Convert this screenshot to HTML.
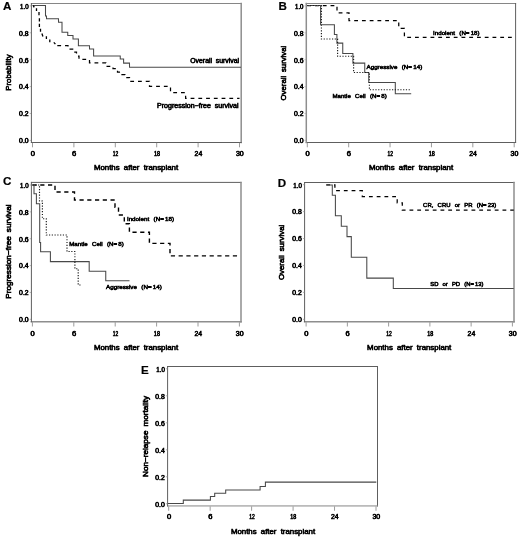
<!DOCTYPE html>
<html><head><meta charset="utf-8"><title>Figure</title>
<style>
html,body{margin:0;padding:0;background:#fff;}
svg{display:block;font-family:"Liberation Sans",sans-serif;will-change:transform;}
</style></head>
<body>
<svg width="520" height="539" viewBox="0 0 520 539">
<line x1="31.4" y1="3.5" x2="241.2" y2="3.5" stroke="#868686" stroke-width="1.0" stroke-linecap="square"/>
<line x1="241.2" y1="3.5" x2="241.2" y2="142.5" stroke="#8e8e8e" stroke-width="1.5" stroke-linecap="square"/>
<line x1="31.4" y1="142.5" x2="241.2" y2="142.5" stroke="#5e5e5e" stroke-width="1.0" stroke-linecap="square"/>
<line x1="31.4" y1="3.5" x2="31.4" y2="142.5" stroke="#5e5e5e" stroke-width="1.0" stroke-linecap="square"/>
<line x1="32.50" y1="142.9" x2="32.50" y2="147.3" stroke="#9c9c9c" stroke-width="1"/>
<text x="32.8" y="156.4" font-size="6.6" font-weight="normal" text-anchor="middle" textLength="4.2" lengthAdjust="spacingAndGlyphs" fill="#000" stroke="#000" stroke-width="0.6">0</text>
<line x1="73.90" y1="142.9" x2="73.90" y2="147.3" stroke="#9c9c9c" stroke-width="1"/>
<text x="74.2" y="156.4" font-size="6.6" font-weight="normal" text-anchor="middle" textLength="4.2" lengthAdjust="spacingAndGlyphs" fill="#000" stroke="#000" stroke-width="0.6">6</text>
<line x1="115.30" y1="142.9" x2="115.30" y2="147.3" stroke="#9c9c9c" stroke-width="1"/>
<text x="115.6" y="156.4" font-size="6.6" font-weight="normal" text-anchor="middle" textLength="5.5" lengthAdjust="spacingAndGlyphs" fill="#000" stroke="#000" stroke-width="0.6">12</text>
<line x1="156.70" y1="142.9" x2="156.70" y2="147.3" stroke="#9c9c9c" stroke-width="1"/>
<text x="157.0" y="156.4" font-size="6.6" font-weight="normal" text-anchor="middle" textLength="6.1" lengthAdjust="spacingAndGlyphs" fill="#000" stroke="#000" stroke-width="0.6">18</text>
<line x1="198.10" y1="142.9" x2="198.10" y2="147.3" stroke="#9c9c9c" stroke-width="1"/>
<text x="198.4" y="156.4" font-size="6.6" font-weight="normal" text-anchor="middle" textLength="7.6" lengthAdjust="spacingAndGlyphs" fill="#000" stroke="#000" stroke-width="0.6">24</text>
<line x1="239.50" y1="142.9" x2="239.50" y2="147.3" stroke="#9c9c9c" stroke-width="1"/>
<text x="239.8" y="156.4" font-size="6.6" font-weight="normal" text-anchor="middle" textLength="7.8" lengthAdjust="spacingAndGlyphs" fill="#000" stroke="#000" stroke-width="0.6">30</text>
<line x1="29.7" y1="140.40" x2="31.0" y2="140.40" stroke="#b0b0b0" stroke-width="1"/>
<text x="28.6" y="143.2" font-size="6.6" font-weight="normal" text-anchor="end" textLength="9.5" lengthAdjust="spacingAndGlyphs" fill="#000" stroke="#000" stroke-width="0.6">0.0</text>
<line x1="29.7" y1="113.50" x2="31.0" y2="113.50" stroke="#b0b0b0" stroke-width="1"/>
<text x="28.6" y="116.3" font-size="6.6" font-weight="normal" text-anchor="end" textLength="9.5" lengthAdjust="spacingAndGlyphs" fill="#000" stroke="#000" stroke-width="0.6">0.2</text>
<line x1="29.7" y1="86.60" x2="31.0" y2="86.60" stroke="#b0b0b0" stroke-width="1"/>
<text x="28.6" y="89.4" font-size="6.6" font-weight="normal" text-anchor="end" textLength="9.5" lengthAdjust="spacingAndGlyphs" fill="#000" stroke="#000" stroke-width="0.6">0.4</text>
<line x1="29.7" y1="59.70" x2="31.0" y2="59.70" stroke="#b0b0b0" stroke-width="1"/>
<text x="28.6" y="62.5" font-size="6.6" font-weight="normal" text-anchor="end" textLength="9.5" lengthAdjust="spacingAndGlyphs" fill="#000" stroke="#000" stroke-width="0.6">0.6</text>
<line x1="29.7" y1="32.80" x2="31.0" y2="32.80" stroke="#b0b0b0" stroke-width="1"/>
<text x="28.6" y="35.6" font-size="6.6" font-weight="normal" text-anchor="end" textLength="9.5" lengthAdjust="spacingAndGlyphs" fill="#000" stroke="#000" stroke-width="0.6">0.8</text>
<line x1="29.7" y1="5.90" x2="31.0" y2="5.90" stroke="#b0b0b0" stroke-width="1"/>
<text x="28.6" y="8.7" font-size="6.6" font-weight="normal" text-anchor="end" textLength="8.5" lengthAdjust="spacingAndGlyphs" fill="#000" stroke="#000" stroke-width="0.6">1.0</text>
<text x="136" y="170.35" font-size="7.5" font-weight="normal" text-anchor="middle" textLength="84.2" lengthAdjust="spacingAndGlyphs" word-spacing="1.9" fill="#000" stroke="#000" stroke-width="0.6">Months after transplant</text>
<text x="10.7" y="72.55" font-size="7.45" font-weight="normal" text-anchor="middle" textLength="36.3" lengthAdjust="spacingAndGlyphs" transform="rotate(-90 10.7 72.55)" word-spacing="1.6" fill="#000" stroke="#000" stroke-width="0.6">Probability</text>
<text x="2.9" y="9.75" font-size="11.6" font-weight="bold" fill="#000" stroke="#000" stroke-width="0.2">A</text>
<path d="M32.5,5.5 H45.5 V16 H46.5 V18.75 H58.5 V22.25 H62 V32.25 H67.75 V35.5 H73 V39 H78.4 V45.8 H89.5 V49 H93.6 V56 H120.25 V59 H123.6 V63.1 H129.5 V67.25 H241" fill="none" stroke="#484848" stroke-width="1.05"/>
<path d="M33.2,5.4 L34.2,7.4 M36.5,8.3 L36.5,11.1 M39,12 L39,15.2 M39.4,18.3 L39.4,21.5 M39.4,23.8 L39.4,27 M40.5,28.7 L40.5,31.7 M41.9,33.5 L42.9,36.5 M46.4,36.2 L46.4,39 M49.8,39.5 L49.8,42.3 M53.8,42.3 L55.4,44.2" fill="none" stroke="#000" stroke-width="1.3"/>
<path d="M57.3,45.7 H68 V49 H73.5 V52 H76.5 V56 H79 V59.4 H89.5 V62.75 H106 V66.25 H113 V68.5 H117.5 V72 H122 V74.5 H125 V77.5 H129.5 V81.25 H149.5 V86.4 H170.5 V92.5 H185.6 V98.4 H239.5" fill="none" stroke="#000" stroke-width="1.25" stroke-dasharray="3.8 3.95"/>
<text x="239" y="63.3" font-size="6.9" font-weight="normal" text-anchor="end" textLength="48.75" lengthAdjust="spacingAndGlyphs" word-spacing="1.8" fill="#000" stroke="#000" stroke-width="0.6">Overall survival</text>
<text x="238.6" y="107.5" font-size="6.9" font-weight="normal" text-anchor="end" textLength="81.6" lengthAdjust="spacingAndGlyphs" word-spacing="1.8" fill="#000" stroke="#000" stroke-width="0.6">Progression&#8722;free survival</text>
<line x1="306.3" y1="3.5" x2="515.6" y2="3.5" stroke="#868686" stroke-width="1.0" stroke-linecap="square"/>
<line x1="515.6" y1="3.5" x2="515.6" y2="142.5" stroke="#5e5e5e" stroke-width="1.0" stroke-linecap="square"/>
<line x1="306.3" y1="142.5" x2="515.6" y2="142.5" stroke="#5e5e5e" stroke-width="1.0" stroke-linecap="square"/>
<line x1="306.3" y1="3.5" x2="306.3" y2="142.5" stroke="#8e8e8e" stroke-width="1.5" stroke-linecap="square"/>
<line x1="307.30" y1="142.9" x2="307.30" y2="147.3" stroke="#9c9c9c" stroke-width="1"/>
<text x="307.6" y="156.4" font-size="6.6" font-weight="normal" text-anchor="middle" textLength="4.2" lengthAdjust="spacingAndGlyphs" fill="#000" stroke="#000" stroke-width="0.6">0</text>
<line x1="348.68" y1="142.9" x2="348.68" y2="147.3" stroke="#9c9c9c" stroke-width="1"/>
<text x="348.98" y="156.4" font-size="6.6" font-weight="normal" text-anchor="middle" textLength="4.2" lengthAdjust="spacingAndGlyphs" fill="#000" stroke="#000" stroke-width="0.6">6</text>
<line x1="390.06" y1="142.9" x2="390.06" y2="147.3" stroke="#9c9c9c" stroke-width="1"/>
<text x="390.36" y="156.4" font-size="6.6" font-weight="normal" text-anchor="middle" textLength="5.5" lengthAdjust="spacingAndGlyphs" fill="#000" stroke="#000" stroke-width="0.6">12</text>
<line x1="431.44" y1="142.9" x2="431.44" y2="147.3" stroke="#9c9c9c" stroke-width="1"/>
<text x="431.74" y="156.4" font-size="6.6" font-weight="normal" text-anchor="middle" textLength="6.1" lengthAdjust="spacingAndGlyphs" fill="#000" stroke="#000" stroke-width="0.6">18</text>
<line x1="472.82" y1="142.9" x2="472.82" y2="147.3" stroke="#9c9c9c" stroke-width="1"/>
<text x="473.12" y="156.4" font-size="6.6" font-weight="normal" text-anchor="middle" textLength="7.6" lengthAdjust="spacingAndGlyphs" fill="#000" stroke="#000" stroke-width="0.6">24</text>
<line x1="514.20" y1="142.9" x2="514.20" y2="147.3" stroke="#9c9c9c" stroke-width="1"/>
<text x="514.5" y="156.4" font-size="6.6" font-weight="normal" text-anchor="middle" textLength="7.8" lengthAdjust="spacingAndGlyphs" fill="#000" stroke="#000" stroke-width="0.6">30</text>
<line x1="304.6" y1="140.40" x2="305.90000000000003" y2="140.40" stroke="#b0b0b0" stroke-width="1"/>
<text x="303.5" y="143.2" font-size="6.6" font-weight="normal" text-anchor="end" textLength="9.5" lengthAdjust="spacingAndGlyphs" fill="#000" stroke="#000" stroke-width="0.6">0.0</text>
<line x1="304.6" y1="113.50" x2="305.90000000000003" y2="113.50" stroke="#b0b0b0" stroke-width="1"/>
<text x="303.5" y="116.3" font-size="6.6" font-weight="normal" text-anchor="end" textLength="9.5" lengthAdjust="spacingAndGlyphs" fill="#000" stroke="#000" stroke-width="0.6">0.2</text>
<line x1="304.6" y1="86.60" x2="305.90000000000003" y2="86.60" stroke="#b0b0b0" stroke-width="1"/>
<text x="303.5" y="89.4" font-size="6.6" font-weight="normal" text-anchor="end" textLength="9.5" lengthAdjust="spacingAndGlyphs" fill="#000" stroke="#000" stroke-width="0.6">0.4</text>
<line x1="304.6" y1="59.70" x2="305.90000000000003" y2="59.70" stroke="#b0b0b0" stroke-width="1"/>
<text x="303.5" y="62.5" font-size="6.6" font-weight="normal" text-anchor="end" textLength="9.5" lengthAdjust="spacingAndGlyphs" fill="#000" stroke="#000" stroke-width="0.6">0.6</text>
<line x1="304.6" y1="32.80" x2="305.90000000000003" y2="32.80" stroke="#b0b0b0" stroke-width="1"/>
<text x="303.5" y="35.6" font-size="6.6" font-weight="normal" text-anchor="end" textLength="9.5" lengthAdjust="spacingAndGlyphs" fill="#000" stroke="#000" stroke-width="0.6">0.8</text>
<line x1="304.6" y1="5.90" x2="305.90000000000003" y2="5.90" stroke="#b0b0b0" stroke-width="1"/>
<text x="303.5" y="8.7" font-size="6.6" font-weight="normal" text-anchor="end" textLength="8.5" lengthAdjust="spacingAndGlyphs" fill="#000" stroke="#000" stroke-width="0.6">1.0</text>
<text x="411" y="170.35" font-size="7.5" font-weight="normal" text-anchor="middle" textLength="84.2" lengthAdjust="spacingAndGlyphs" word-spacing="1.9" fill="#000" stroke="#000" stroke-width="0.6">Months after transplant</text>
<text x="285.8" y="73.1" font-size="7.45" font-weight="normal" text-anchor="middle" textLength="54.6" lengthAdjust="spacingAndGlyphs" transform="rotate(-90 285.8 73.1)" word-spacing="1.6" fill="#000" stroke="#000" stroke-width="0.6">Overall survival</text>
<text x="278.6" y="9.7" font-size="11.6" font-weight="bold" fill="#000" stroke="#000" stroke-width="0.2">B</text>
<path d="M307.3,5.5 H337 V12.9 H349 V20.6 H398.75 V28.4 H404.4 V37.3 H515.75" fill="none" stroke="#000" stroke-width="1.25" stroke-dasharray="3.8 3.95"/>
<path d="M307.3,5.5 H320.6 V24.75 H334.4 V34.4 H336.9 V43.1 H342.75 V53.5 H352.9 V63.1 H364.75 V72.5 H368.75 V82.5 H395.3 V93.8 H411.2" fill="none" stroke="#484848" stroke-width="1.05"/>
<path d="M307.3,5.5 H321.4 V39 H337.6 V56.25 H353.6 V72.5 H369.4 V89.75 H410.8" fill="none" stroke="#1a1a1a" stroke-width="1.15" stroke-dasharray="1.2 1.57"/>
<text x="433.1" y="34.7" font-size="6.1" font-weight="normal" textLength="46.5" lengthAdjust="spacingAndGlyphs" word-spacing="2.6" fill="#000" stroke="#000" stroke-width="0.55">Indolent (N=&#8201;18)</text>
<text x="366.5" y="69.35" font-size="6.1" font-weight="normal" textLength="55.75" lengthAdjust="spacingAndGlyphs" word-spacing="2.6" fill="#000" stroke="#000" stroke-width="0.55">Aggressive (N=&#8201;14)</text>
<text x="332.4" y="98.45" font-size="6.1" font-weight="normal" textLength="54.35" lengthAdjust="spacingAndGlyphs" word-spacing="2.6" fill="#000" stroke="#000" stroke-width="0.55">Mantle Cell (N=&#8201;8)</text>
<line x1="31.4" y1="182.4" x2="241.0" y2="182.4" stroke="#5e5e5e" stroke-width="1.0" stroke-linecap="square"/>
<line x1="241.0" y1="182.4" x2="241.0" y2="321.7" stroke="#8e8e8e" stroke-width="1.5" stroke-linecap="square"/>
<line x1="31.4" y1="321.7" x2="241.0" y2="321.7" stroke="#8e8e8e" stroke-width="1.5" stroke-linecap="square"/>
<line x1="31.4" y1="182.4" x2="31.4" y2="321.7" stroke="#5e5e5e" stroke-width="1.0" stroke-linecap="square"/>
<line x1="32.40" y1="322.09999999999997" x2="32.40" y2="326.5" stroke="#9c9c9c" stroke-width="1"/>
<text x="32.7" y="335.6" font-size="6.6" font-weight="normal" text-anchor="middle" textLength="4.2" lengthAdjust="spacingAndGlyphs" fill="#000" stroke="#000" stroke-width="0.6">0</text>
<line x1="73.80" y1="322.09999999999997" x2="73.80" y2="326.5" stroke="#9c9c9c" stroke-width="1"/>
<text x="74.1" y="335.6" font-size="6.6" font-weight="normal" text-anchor="middle" textLength="4.2" lengthAdjust="spacingAndGlyphs" fill="#000" stroke="#000" stroke-width="0.6">6</text>
<line x1="115.20" y1="322.09999999999997" x2="115.20" y2="326.5" stroke="#9c9c9c" stroke-width="1"/>
<text x="115.5" y="335.6" font-size="6.6" font-weight="normal" text-anchor="middle" textLength="5.5" lengthAdjust="spacingAndGlyphs" fill="#000" stroke="#000" stroke-width="0.6">12</text>
<line x1="156.60" y1="322.09999999999997" x2="156.60" y2="326.5" stroke="#9c9c9c" stroke-width="1"/>
<text x="156.9" y="335.6" font-size="6.6" font-weight="normal" text-anchor="middle" textLength="6.1" lengthAdjust="spacingAndGlyphs" fill="#000" stroke="#000" stroke-width="0.6">18</text>
<line x1="198.00" y1="322.09999999999997" x2="198.00" y2="326.5" stroke="#9c9c9c" stroke-width="1"/>
<text x="198.3" y="335.6" font-size="6.6" font-weight="normal" text-anchor="middle" textLength="7.6" lengthAdjust="spacingAndGlyphs" fill="#000" stroke="#000" stroke-width="0.6">24</text>
<line x1="239.40" y1="322.09999999999997" x2="239.40" y2="326.5" stroke="#9c9c9c" stroke-width="1"/>
<text x="239.7" y="335.6" font-size="6.6" font-weight="normal" text-anchor="middle" textLength="7.8" lengthAdjust="spacingAndGlyphs" fill="#000" stroke="#000" stroke-width="0.6">30</text>
<line x1="29.7" y1="319.30" x2="31.0" y2="319.30" stroke="#b0b0b0" stroke-width="1"/>
<text x="28.6" y="322.1" font-size="6.6" font-weight="normal" text-anchor="end" textLength="9.5" lengthAdjust="spacingAndGlyphs" fill="#000" stroke="#000" stroke-width="0.6">0.0</text>
<line x1="29.7" y1="292.44" x2="31.0" y2="292.44" stroke="#b0b0b0" stroke-width="1"/>
<text x="28.6" y="295.24" font-size="6.6" font-weight="normal" text-anchor="end" textLength="9.5" lengthAdjust="spacingAndGlyphs" fill="#000" stroke="#000" stroke-width="0.6">0.2</text>
<line x1="29.7" y1="265.58" x2="31.0" y2="265.58" stroke="#b0b0b0" stroke-width="1"/>
<text x="28.6" y="268.38" font-size="6.6" font-weight="normal" text-anchor="end" textLength="9.5" lengthAdjust="spacingAndGlyphs" fill="#000" stroke="#000" stroke-width="0.6">0.4</text>
<line x1="29.7" y1="238.72" x2="31.0" y2="238.72" stroke="#b0b0b0" stroke-width="1"/>
<text x="28.6" y="241.52" font-size="6.6" font-weight="normal" text-anchor="end" textLength="9.5" lengthAdjust="spacingAndGlyphs" fill="#000" stroke="#000" stroke-width="0.6">0.6</text>
<line x1="29.7" y1="211.86" x2="31.0" y2="211.86" stroke="#b0b0b0" stroke-width="1"/>
<text x="28.6" y="214.66" font-size="6.6" font-weight="normal" text-anchor="end" textLength="9.5" lengthAdjust="spacingAndGlyphs" fill="#000" stroke="#000" stroke-width="0.6">0.8</text>
<line x1="29.7" y1="185.00" x2="31.0" y2="185.00" stroke="#b0b0b0" stroke-width="1"/>
<text x="28.6" y="187.8" font-size="6.6" font-weight="normal" text-anchor="end" textLength="8.5" lengthAdjust="spacingAndGlyphs" fill="#000" stroke="#000" stroke-width="0.6">1.0</text>
<text x="136" y="349.55" font-size="7.5" font-weight="normal" text-anchor="middle" textLength="84.2" lengthAdjust="spacingAndGlyphs" word-spacing="1.9" fill="#000" stroke="#000" stroke-width="0.6">Months after transplant</text>
<text x="10.9" y="251.6" font-size="7.45" font-weight="normal" text-anchor="middle" textLength="94.4" lengthAdjust="spacingAndGlyphs" transform="rotate(-90 10.9 251.6)" word-spacing="1.6" fill="#000" stroke="#000" stroke-width="0.6">Progression&#8722;free survival</text>
<text x="2.9" y="185.4" font-size="11.6" font-weight="bold" fill="#000" stroke="#000" stroke-width="0.2">C</text>
<path d="M32.5,185 H55 V192 H74.5 V200 H115 V207.2 H118.5 V215 H124.3 V223.7 H129.4 V232.3 H149.4 V243.4 H170 V255.9 H238.75" fill="none" stroke="#000" stroke-width="1.4" stroke-dasharray="4.2 3.55"/>
<path d="M32.5,185 H34 V193.8 H36.4 V203.7 H39.7 V242.5 H40.6 V251.8 H50.4 V261.6 H89.2 V271.3 H105.75 V280.75 H129.5" fill="none" stroke="#484848" stroke-width="1.05"/>
<path d="M32.5,185 H39.5 V201 H42.4 V218.75 H46.3 V235 H67 V251.5 H74.9 V268.75 H78.2 V285 H81.25" fill="none" stroke="#1a1a1a" stroke-width="1.15" stroke-dasharray="1.2 1.57"/>
<text x="126.9" y="220.55" font-size="6.1" font-weight="normal" textLength="47.2" lengthAdjust="spacingAndGlyphs" word-spacing="2.6" fill="#000" stroke="#000" stroke-width="0.55">Indolent (N=&#8201;18)</text>
<text x="69.25" y="245.55" font-size="6.1" font-weight="normal" textLength="54.5" lengthAdjust="spacingAndGlyphs" word-spacing="2.6" fill="#000" stroke="#000" stroke-width="0.55">Mantle Cell (N=&#8201;8)</text>
<text x="106" y="289.35" font-size="6.1" font-weight="normal" textLength="55.9" lengthAdjust="spacingAndGlyphs" word-spacing="2.6" fill="#000" stroke="#000" stroke-width="0.55">Aggressive (N=&#8201;14)</text>
<line x1="304.6" y1="182.5" x2="514.0" y2="182.5" stroke="#5e5e5e" stroke-width="1.0" stroke-linecap="square"/>
<line x1="514.0" y1="182.5" x2="514.0" y2="321.7" stroke="#8e8e8e" stroke-width="1.5" stroke-linecap="square"/>
<line x1="304.6" y1="321.7" x2="514.0" y2="321.7" stroke="#8e8e8e" stroke-width="1.5" stroke-linecap="square"/>
<line x1="304.6" y1="182.5" x2="304.6" y2="321.7" stroke="#5e5e5e" stroke-width="1.0" stroke-linecap="square"/>
<line x1="306.10" y1="322.09999999999997" x2="306.10" y2="326.5" stroke="#9c9c9c" stroke-width="1"/>
<text x="306.4" y="335.6" font-size="6.6" font-weight="normal" text-anchor="middle" textLength="4.2" lengthAdjust="spacingAndGlyphs" fill="#000" stroke="#000" stroke-width="0.6">0</text>
<line x1="347.36" y1="322.09999999999997" x2="347.36" y2="326.5" stroke="#9c9c9c" stroke-width="1"/>
<text x="347.66" y="335.6" font-size="6.6" font-weight="normal" text-anchor="middle" textLength="4.2" lengthAdjust="spacingAndGlyphs" fill="#000" stroke="#000" stroke-width="0.6">6</text>
<line x1="388.62" y1="322.09999999999997" x2="388.62" y2="326.5" stroke="#9c9c9c" stroke-width="1"/>
<text x="388.92" y="335.6" font-size="6.6" font-weight="normal" text-anchor="middle" textLength="5.5" lengthAdjust="spacingAndGlyphs" fill="#000" stroke="#000" stroke-width="0.6">12</text>
<line x1="429.88" y1="322.09999999999997" x2="429.88" y2="326.5" stroke="#9c9c9c" stroke-width="1"/>
<text x="430.18" y="335.6" font-size="6.6" font-weight="normal" text-anchor="middle" textLength="6.1" lengthAdjust="spacingAndGlyphs" fill="#000" stroke="#000" stroke-width="0.6">18</text>
<line x1="471.14" y1="322.09999999999997" x2="471.14" y2="326.5" stroke="#9c9c9c" stroke-width="1"/>
<text x="471.44" y="335.6" font-size="6.6" font-weight="normal" text-anchor="middle" textLength="7.6" lengthAdjust="spacingAndGlyphs" fill="#000" stroke="#000" stroke-width="0.6">24</text>
<line x1="512.40" y1="322.09999999999997" x2="512.40" y2="326.5" stroke="#9c9c9c" stroke-width="1"/>
<text x="512.7" y="335.6" font-size="6.6" font-weight="normal" text-anchor="middle" textLength="7.8" lengthAdjust="spacingAndGlyphs" fill="#000" stroke="#000" stroke-width="0.6">30</text>
<line x1="302.90000000000003" y1="319.30" x2="304.20000000000005" y2="319.30" stroke="#b0b0b0" stroke-width="1"/>
<text x="301.8" y="322.1" font-size="6.6" font-weight="normal" text-anchor="end" textLength="9.5" lengthAdjust="spacingAndGlyphs" fill="#000" stroke="#000" stroke-width="0.6">0.0</text>
<line x1="302.90000000000003" y1="292.38" x2="304.20000000000005" y2="292.38" stroke="#b0b0b0" stroke-width="1"/>
<text x="301.8" y="295.18" font-size="6.6" font-weight="normal" text-anchor="end" textLength="9.5" lengthAdjust="spacingAndGlyphs" fill="#000" stroke="#000" stroke-width="0.6">0.2</text>
<line x1="302.90000000000003" y1="265.46" x2="304.20000000000005" y2="265.46" stroke="#b0b0b0" stroke-width="1"/>
<text x="301.8" y="268.26" font-size="6.6" font-weight="normal" text-anchor="end" textLength="9.5" lengthAdjust="spacingAndGlyphs" fill="#000" stroke="#000" stroke-width="0.6">0.4</text>
<line x1="302.90000000000003" y1="238.54" x2="304.20000000000005" y2="238.54" stroke="#b0b0b0" stroke-width="1"/>
<text x="301.8" y="241.34" font-size="6.6" font-weight="normal" text-anchor="end" textLength="9.5" lengthAdjust="spacingAndGlyphs" fill="#000" stroke="#000" stroke-width="0.6">0.6</text>
<line x1="302.90000000000003" y1="211.62" x2="304.20000000000005" y2="211.62" stroke="#b0b0b0" stroke-width="1"/>
<text x="301.8" y="214.42" font-size="6.6" font-weight="normal" text-anchor="end" textLength="9.5" lengthAdjust="spacingAndGlyphs" fill="#000" stroke="#000" stroke-width="0.6">0.8</text>
<line x1="302.90000000000003" y1="184.70" x2="304.20000000000005" y2="184.70" stroke="#b0b0b0" stroke-width="1"/>
<text x="301.8" y="187.5" font-size="6.6" font-weight="normal" text-anchor="end" textLength="8.5" lengthAdjust="spacingAndGlyphs" fill="#000" stroke="#000" stroke-width="0.6">1.0</text>
<text x="409.2" y="349.55" font-size="7.5" font-weight="normal" text-anchor="middle" textLength="84.2" lengthAdjust="spacingAndGlyphs" word-spacing="1.9" fill="#000" stroke="#000" stroke-width="0.6">Months after transplant</text>
<text x="284.4" y="252.4" font-size="7.45" font-weight="normal" text-anchor="middle" textLength="55.4" lengthAdjust="spacingAndGlyphs" transform="rotate(-90 284.4 252.4)" word-spacing="1.6" fill="#000" stroke="#000" stroke-width="0.6">Overall survival</text>
<text x="277.8" y="186.7" font-size="11.6" font-weight="bold" fill="#000" stroke="#000" stroke-width="0.2">D</text>
<path d="M326.3,184.9 H334.9 V190.6 H362.3 V196.5 H397.2 V202.8 H402.3 V210.2 H513.75" fill="none" stroke="#000" stroke-width="1.25" stroke-dasharray="3.8 3.95"/>
<path d="M326.3,184.9 H332.3 V195.3 H335.4 V215.8 H341.3 V226.2 H347 V236.6 H351.3 V257.3 H366.8 V278.1 H393.3 V288.4 H513.75" fill="none" stroke="#484848" stroke-width="1.05"/>
<text x="423.1" y="206.85" font-size="6.1" font-weight="normal" textLength="73.2" lengthAdjust="spacingAndGlyphs" word-spacing="2.6" fill="#000" stroke="#000" stroke-width="0.55">CR, CRU or PR (N=&#8201;23)</text>
<text x="430.25" y="285.55" font-size="6.1" font-weight="normal" textLength="53.25" lengthAdjust="spacingAndGlyphs" word-spacing="2.6" fill="#000" stroke="#000" stroke-width="0.55">SD or PD (N=&#8201;13)</text>
<line x1="167.6" y1="366.5" x2="377.5" y2="366.5" stroke="#5e5e5e" stroke-width="1.0" stroke-linecap="square"/>
<line x1="377.5" y1="366.5" x2="377.5" y2="505.95" stroke="#5e5e5e" stroke-width="1.0" stroke-linecap="square"/>
<line x1="167.6" y1="505.95" x2="377.5" y2="505.95" stroke="#868686" stroke-width="1.0" stroke-linecap="square"/>
<line x1="167.6" y1="366.5" x2="167.6" y2="505.95" stroke="#5e5e5e" stroke-width="1.0" stroke-linecap="square"/>
<line x1="168.70" y1="506.34999999999997" x2="168.70" y2="510.75" stroke="#9c9c9c" stroke-width="1"/>
<text x="169.0" y="519.45" font-size="6.6" font-weight="normal" text-anchor="middle" textLength="4.2" lengthAdjust="spacingAndGlyphs" fill="#000" stroke="#000" stroke-width="0.6">0</text>
<line x1="210.16" y1="506.34999999999997" x2="210.16" y2="510.75" stroke="#9c9c9c" stroke-width="1"/>
<text x="210.46" y="519.45" font-size="6.6" font-weight="normal" text-anchor="middle" textLength="4.2" lengthAdjust="spacingAndGlyphs" fill="#000" stroke="#000" stroke-width="0.6">6</text>
<line x1="251.62" y1="506.34999999999997" x2="251.62" y2="510.75" stroke="#9c9c9c" stroke-width="1"/>
<text x="251.92" y="519.45" font-size="6.6" font-weight="normal" text-anchor="middle" textLength="5.5" lengthAdjust="spacingAndGlyphs" fill="#000" stroke="#000" stroke-width="0.6">12</text>
<line x1="293.08" y1="506.34999999999997" x2="293.08" y2="510.75" stroke="#9c9c9c" stroke-width="1"/>
<text x="293.38" y="519.45" font-size="6.6" font-weight="normal" text-anchor="middle" textLength="6.1" lengthAdjust="spacingAndGlyphs" fill="#000" stroke="#000" stroke-width="0.6">18</text>
<line x1="334.54" y1="506.34999999999997" x2="334.54" y2="510.75" stroke="#9c9c9c" stroke-width="1"/>
<text x="334.84" y="519.45" font-size="6.6" font-weight="normal" text-anchor="middle" textLength="7.6" lengthAdjust="spacingAndGlyphs" fill="#000" stroke="#000" stroke-width="0.6">24</text>
<line x1="376.00" y1="506.34999999999997" x2="376.00" y2="510.75" stroke="#9c9c9c" stroke-width="1"/>
<text x="376.3" y="519.45" font-size="6.6" font-weight="normal" text-anchor="middle" textLength="7.8" lengthAdjust="spacingAndGlyphs" fill="#000" stroke="#000" stroke-width="0.6">30</text>
<line x1="165.9" y1="503.80" x2="167.2" y2="503.80" stroke="#b0b0b0" stroke-width="1"/>
<text x="164.8" y="506.6" font-size="6.6" font-weight="normal" text-anchor="end" textLength="9.5" lengthAdjust="spacingAndGlyphs" fill="#000" stroke="#000" stroke-width="0.6">0.0</text>
<line x1="165.9" y1="476.80" x2="167.2" y2="476.80" stroke="#b0b0b0" stroke-width="1"/>
<text x="164.8" y="479.6" font-size="6.6" font-weight="normal" text-anchor="end" textLength="9.5" lengthAdjust="spacingAndGlyphs" fill="#000" stroke="#000" stroke-width="0.6">0.2</text>
<line x1="165.9" y1="449.80" x2="167.2" y2="449.80" stroke="#b0b0b0" stroke-width="1"/>
<text x="164.8" y="452.6" font-size="6.6" font-weight="normal" text-anchor="end" textLength="9.5" lengthAdjust="spacingAndGlyphs" fill="#000" stroke="#000" stroke-width="0.6">0.4</text>
<line x1="165.9" y1="422.80" x2="167.2" y2="422.80" stroke="#b0b0b0" stroke-width="1"/>
<text x="164.8" y="425.6" font-size="6.6" font-weight="normal" text-anchor="end" textLength="9.5" lengthAdjust="spacingAndGlyphs" fill="#000" stroke="#000" stroke-width="0.6">0.6</text>
<line x1="165.9" y1="395.80" x2="167.2" y2="395.80" stroke="#b0b0b0" stroke-width="1"/>
<text x="164.8" y="398.6" font-size="6.6" font-weight="normal" text-anchor="end" textLength="9.5" lengthAdjust="spacingAndGlyphs" fill="#000" stroke="#000" stroke-width="0.6">0.8</text>
<line x1="165.9" y1="368.80" x2="167.2" y2="368.80" stroke="#b0b0b0" stroke-width="1"/>
<text x="164.8" y="371.6" font-size="6.6" font-weight="normal" text-anchor="end" textLength="8.5" lengthAdjust="spacingAndGlyphs" fill="#000" stroke="#000" stroke-width="0.6">1.0</text>
<text x="273" y="533.8" font-size="7.5" font-weight="normal" text-anchor="middle" textLength="84.2" lengthAdjust="spacingAndGlyphs" word-spacing="1.9" fill="#000" stroke="#000" stroke-width="0.6">Months after transplant</text>
<text x="147.8" y="436.35" font-size="7.45" font-weight="normal" text-anchor="middle" textLength="81.1" lengthAdjust="spacingAndGlyphs" transform="rotate(-90 147.8 436.35)" word-spacing="1.6" fill="#000" stroke="#000" stroke-width="0.6">Non&#8722;relapse mortality</text>
<text x="140.9" y="374.2" font-size="11.6" font-weight="bold" fill="#000" stroke="#000" stroke-width="0.2">E</text>
<path d="M167.8,503.4 H183.3 V500.1 H210.4 V496.5 H214.7 V493.3 H225.7 V490 H260.1 V486.4 H265.4 V482.1 H376.3" fill="none" stroke="#484848" stroke-width="1.05"/>
</svg>
</body></html>
